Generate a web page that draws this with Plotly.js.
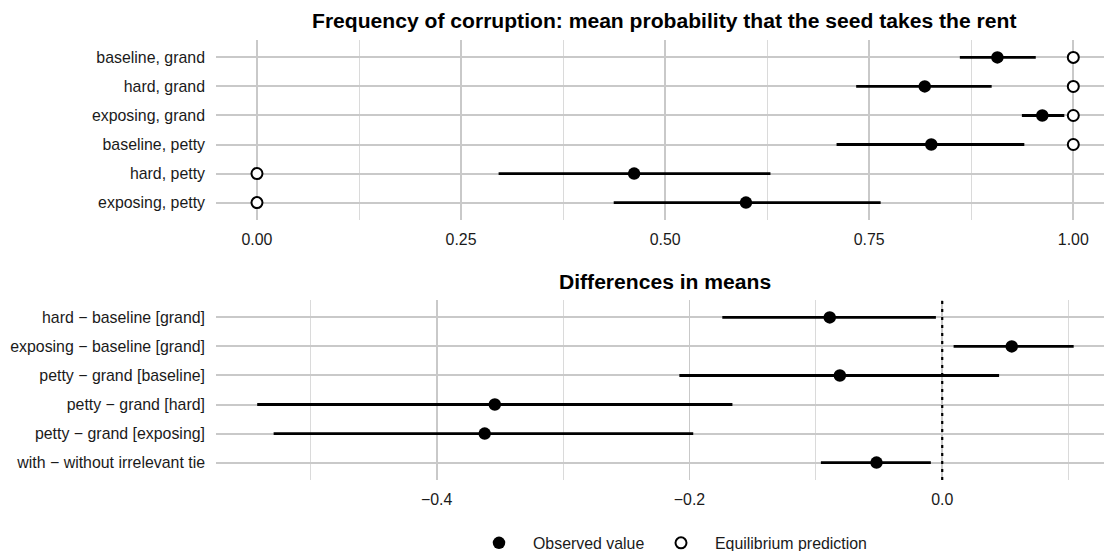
<!DOCTYPE html>
<html>
<head>
<meta charset="utf-8">
<script src="https://cdn.plot.ly/plotly-3.0.1.min.js"></script>
<style>html,body{margin:0;padding:0;background:#fff;}#chart{width:1104px;height:551px;}</style>
</head>
<body>
<div id="chart"></div>
<script>
// ---- data ----
var topCats = ['baseline, grand', 'hard, grand', 'exposing, grand', 'baseline, petty', 'hard, petty', 'exposing, petty'];
var topMean = [0.907, 0.818, 0.962, 0.826, 0.462, 0.599];
var topLow  = [0.861, 0.734, 0.937, 0.710, 0.296, 0.437];
var topHigh = [0.954, 0.900, 0.989, 0.940, 0.629, 0.764];
var topEq   = [1, 1, 1, 1, 0, 0];

var botCats = ['hard \u2212 baseline [grand]', 'exposing \u2212 baseline [grand]', 'petty \u2212 grand [baseline]',
               'petty \u2212 grand [hard]', 'petty \u2212 grand [exposing]', 'with \u2212 without irrelevant tie'];
var botMean = [-0.089, 0.055, -0.081, -0.354, -0.362, -0.052];
var botLow  = [-0.174, 0.009, -0.208, -0.542, -0.529, -0.096];
var botHigh = [-0.005, 0.104, 0.045, -0.166, -0.197, -0.009];

var topTicks = [0, 0.25, 0.5, 0.75, 1];
var topTickText = ['0.00', '0.25', '0.50', '0.75', '1.00'];
var botTicks = [-0.4, -0.2, 0];
var botTickText = ['\u22120.4', '\u22120.2', '0.0'];

var titleTop = 'Frequency of corruption: mean probability that the seed takes the rent';
var titleBot = 'Differences in means';

// ---- helpers ----
function diff(a, b) { return a.map(function (v, i) { return v - b[i]; }); }

var W = 1104, H = 551;
var FONT = 'Liberation Sans, Arial, Helvetica, sans-serif';
var panelLeft = 216;
var GRID = '#c9c9c9', GRIDMINOR = '#d6d6d6';

function px2fx(p) { return p / W; }
function py2fy(p) { return 1 - p / H; }

var traces = [
  {
    type: 'scatter', mode: 'markers', x: topMean, y: topCats, xaxis: 'x', yaxis: 'y',
    name: 'Observed value', legendgroup: 'obs', legendwidth: 109,
    marker: {color: '#000', size: 12.5, symbol: 'circle'},
    error_x: {type: 'data', symmetric: false, array: diff(topHigh, topMean), arrayminus: diff(topMean, topLow),
              color: '#000', thickness: 2.8, width: 0},
    hoverinfo: 'x+y'
  },
  {
    type: 'scatter', mode: 'markers', x: topEq, y: topCats, xaxis: 'x', yaxis: 'y',
    name: 'Equilibrium prediction', legendgroup: 'eq',
    marker: {color: '#fff', size: 11, symbol: 'circle', line: {color: '#000', width: 2}},
    hoverinfo: 'x+y'
  },
  {
    type: 'scatter', mode: 'markers', x: botMean, y: botCats, xaxis: 'x2', yaxis: 'y2',
    name: 'Observed value', legendgroup: 'obs', showlegend: false,
    marker: {color: '#000', size: 12.5, symbol: 'circle'},
    error_x: {type: 'data', symmetric: false, array: diff(botHigh, botMean), arrayminus: diff(botMean, botLow),
              color: '#000', thickness: 2.8, width: 0},
    hoverinfo: 'x+y'
  }
];

var tickFont = {family: FONT, size: 15.9, color: '#1a1a1a'};

var layout = {
  width: W, height: H,
  margin: {l: 0, r: 0, t: 0, b: 0, autoexpand: false},
  paper_bgcolor: '#fff', plot_bgcolor: '#fff',
  font: {family: FONT, color: '#000'},
  showlegend: true,
  legend: {
    orientation: 'h', xref: 'container', yref: 'container',
    x: px2fx(465), xanchor: 'left', y: py2fy(543), yanchor: 'middle',
    font: {family: FONT, size: 15.9, color: '#1a1a1a'},
    itemwidth: 58,
    bgcolor: 'rgba(0,0,0,0)', borderwidth: 0
  },
  xaxis: {
    domain: [px2fx(panelLeft), 1], anchor: 'y',
    range: [-0.0502, 1.0376],
    tickmode: 'array', tickvals: topTicks, ticktext: topTickText,
    showgrid: true, gridcolor: GRID, gridwidth: 1.8,
    minor: {tickmode: 'array', tickvals: [0.125, 0.375, 0.625, 0.875], showgrid: true, gridcolor: GRIDMINOR, gridwidth: 0.9, ticks: ''},
    zeroline: false, showline: false, ticks: '',
    tickfont: tickFont, ticklabelstandoff: 8
  },
  yaxis: {
    domain: [py2fy(220), py2fy(40)], anchor: 'x',
    type: 'category', categoryorder: 'array', categoryarray: topCats,
    range: [5.6, -0.6],
    showgrid: true, gridcolor: GRID, gridwidth: 2,
    zeroline: false, showline: false, ticks: '',
    tickfont: tickFont, ticklabelstandoff: 10
  },
  xaxis2: {
    domain: [px2fx(panelLeft), 1], anchor: 'y2',
    range: [-0.5746, 0.128],
    tickmode: 'array', tickvals: botTicks, ticktext: botTickText,
    showgrid: true, gridcolor: GRID, gridwidth: 1.8,
    minor: {tickmode: 'array', tickvals: [-0.5, -0.3, -0.1, 0.1], showgrid: true, gridcolor: GRIDMINOR, gridwidth: 0.9, ticks: ''},
    zeroline: false, showline: false, ticks: '',
    tickfont: tickFont, ticklabelstandoff: 8
  },
  yaxis2: {
    domain: [py2fy(480), py2fy(300)], anchor: 'x2',
    type: 'category', categoryorder: 'array', categoryarray: botCats,
    range: [5.6, -0.6],
    showgrid: true, gridcolor: GRID, gridwidth: 2,
    zeroline: false, showline: false, ticks: '',
    tickfont: tickFont, ticklabelstandoff: 10
  },
  shapes: [
    {type: 'line', xref: 'x2', yref: 'paper', x0: 0, x1: 0, y0: py2fy(480), y1: py2fy(300),
     line: {color: '#000', width: 2.2, dash: '3px,5px'}, layer: 'above'}
  ],
  annotations: [
    {text: '<b>' + titleTop + '</b>', xref: 'paper', yref: 'paper', x: px2fx(664), y: py2fy(21),
     xanchor: 'center', yanchor: 'middle', showarrow: false, font: {family: FONT, size: 21.1, color: '#000'}},
    {text: '<b>' + titleBot + '</b>', xref: 'paper', yref: 'paper', x: px2fx(665), y: py2fy(281),
     xanchor: 'center', yanchor: 'middle', showarrow: false, font: {family: FONT, size: 21.1, color: '#000'}}
  ]
};

Plotly.newPlot('chart', traces, layout, {displayModeBar: false, staticPlot: true});
</script>
</body>
</html>
